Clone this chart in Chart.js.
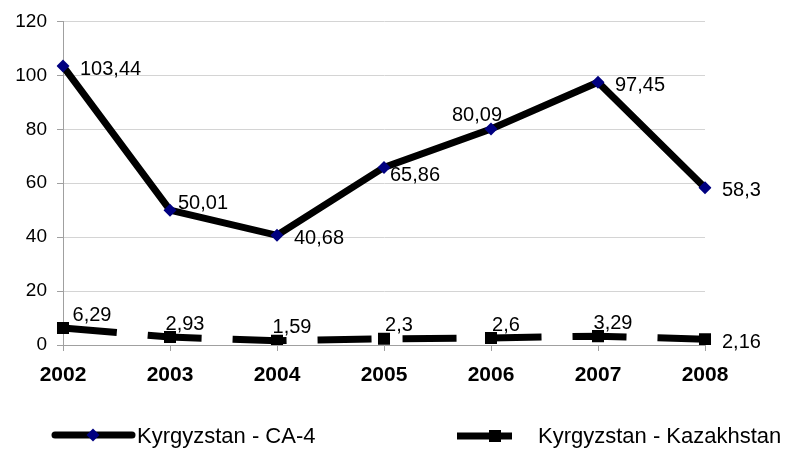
<!DOCTYPE html>
<html>
<head>
<meta charset="utf-8">
<script src="https://cdn.jsdelivr.net/npm/chart.js@4/dist/chart.umd.min.js"></script>
<style>
  html, body { margin: 0; padding: 0; background: #ffffff; }
  #wrap { width: 794px; height: 454px; position: relative; }
</style>
</head>
<body>
<div id="wrap"><canvas id="c" width="794" height="454"></canvas></div>
<script>
// ---- data ----
const years = ['2002', '2003', '2004', '2005', '2006', '2007', '2008'];
const ca4Values = [103.44, 50.01, 40.68, 65.86, 80.09, 97.45, 58.3];
const kazValues = [6.29, 2.93, 1.59, 2.3, 2.6, 3.29, 2.16];
const seriesNames = ['Kyrgyzstan - CA-4', 'Kyrgyzstan - Kazakhstan'];
const yTicks = [0, 20, 40, 60, 80, 100, 120];
// label placement keywords (relative to each point)
const ca4LabelPos = ['right', 'upright', 'right', 'downright', 'upleft', 'right', 'right'];
const kazLabelPos = ['aboveright', 'above', 'above', 'above', 'above', 'above', 'right'];

const fmt = v => String(v).replace('.', ',');

const offsets = {
  right:      { dx: 17,  dy: 3,   align: 'left' },
  upright:    { dx: 8,   dy: -7,  align: 'left' },
  downright:  { dx: 6,   dy: 8,   align: 'left' },
  upleft:     { dx: -14, dy: -14, align: 'center' },
  above:      { dx: 15,  dy: -13, align: 'center' },
  aboveright: { dx: 29,  dy: -13, align: 'center' }
};

const labelPlugin = {
  id: 'valueLabels',
  afterDatasetsDraw(chart) {
    const ctx = chart.ctx;
    ctx.save();
    ctx.font = '20px "Liberation Sans", Arial, sans-serif';
    ctx.fillStyle = '#000000';
    ctx.textBaseline = 'middle';
    chart.data.datasets.forEach((ds, i) => {
      const meta = chart.getDatasetMeta(i);
      const pos = i === 0 ? ca4LabelPos : kazLabelPos;
      meta.data.forEach((pt, j) => {
        const o = offsets[pos[j]];
        ctx.textAlign = o.align;
        ctx.fillText(fmt(ds.data[j]), pt.x + o.dx, pt.y + o.dy);
      });
    });
    ctx.restore();
  }
};

const legendPlugin = {
  id: 'customLegend',
  afterDraw(chart) {
    const ctx = chart.ctx;
    const y = 435;
    ctx.save();
    // item 1
    ctx.lineCap = 'round';
    ctx.strokeStyle = '#000000';
    ctx.lineWidth = 7;
    ctx.beginPath(); ctx.moveTo(55, y); ctx.lineTo(132, y); ctx.stroke();
    ctx.fillStyle = '#000080';
    ctx.beginPath();
    ctx.moveTo(93 - 6.5, y); ctx.lineTo(93, y - 6.5); ctx.lineTo(93 + 6.5, y); ctx.lineTo(93, y + 6.5);
    ctx.closePath(); ctx.fill();
    // item 2
    ctx.lineCap = 'butt';
    ctx.beginPath(); ctx.moveTo(457, y + 1); ctx.lineTo(512, y + 1); ctx.stroke();
    ctx.fillStyle = '#000000';
    ctx.fillRect(489, y + 1 - 6, 12, 12);
    // text
    ctx.font = '22px "Liberation Sans", Arial, sans-serif';
    ctx.fillStyle = '#000000';
    ctx.textBaseline = 'middle';
    ctx.textAlign = 'left';
    ctx.fillText(seriesNames[0], 137, y + 2);
    ctx.fillText(seriesNames[1], 538, y + 2);
    ctx.restore();
  }
};

new Chart(document.getElementById('c'), {
  type: 'line',
  data: {
    labels: years,
    datasets: [
      {
        label: seriesNames[0],
        data: ca4Values,
        borderColor: '#000000',
        borderWidth: 7,
        borderJoinStyle: 'miter',
        pointStyle: 'rectRot',
        pointRadius: 6.5,
        pointBackgroundColor: '#000080',
        pointBorderColor: '#000080',
        pointBorderWidth: 0,
        tension: 0,
        fill: false
      },
      {
        label: seriesNames[1],
        data: kazValues,
        borderColor: '#000000',
        borderWidth: 7,
        borderDash: [54, 31],
        borderCapStyle: 'butt',
        pointStyle: 'rect',
        pointRadius: 8.5,
        pointBackgroundColor: '#000000',
        pointBorderColor: '#000000',
        pointBorderWidth: 0,
        tension: 0,
        fill: false
      }
    ]
  },
  options: {
    responsive: false,
    animation: false,
    devicePixelRatio: 1,
    layout: { padding: { top: 21, right: 89, bottom: 60, left: 0 } },
    plugins: {
      legend: { display: false },
      tooltip: { enabled: false }
    },
    scales: {
      x: {
        offset: false,
        grid: {
          display: true,
          drawOnChartArea: false,
          drawTicks: true,
          tickLength: 6,
          color: '#a0a0a0'
        },
        border: { color: '#a0a0a0', width: 1 },
        ticks: {
          color: '#000000',
          font: { family: '"Liberation Sans", Arial, sans-serif', size: 21, weight: 'bold' },
          padding: 12,
          maxRotation: 0
        },
        afterFit(scale) { scale.height = 49; }
      },
      y: {
        min: 0,
        max: 120,
        afterBuildTicks(scale) { scale.ticks = yTicks.map(v => ({ value: v })); },
        grid: {
          color: '#d4d4d4',
          tickLength: 6,
          tickColor: '#a0a0a0'
        },
        border: { color: '#a0a0a0', width: 1 },
        ticks: {
          color: '#000000',
          font: { family: '"Liberation Sans", Arial, sans-serif', size: 19 },
          padding: 10
        },
        afterFit(scale) { scale.width = 63; }
      }
    }
  },
  plugins: [labelPlugin, legendPlugin]
});
</script>
</body>
</html>
